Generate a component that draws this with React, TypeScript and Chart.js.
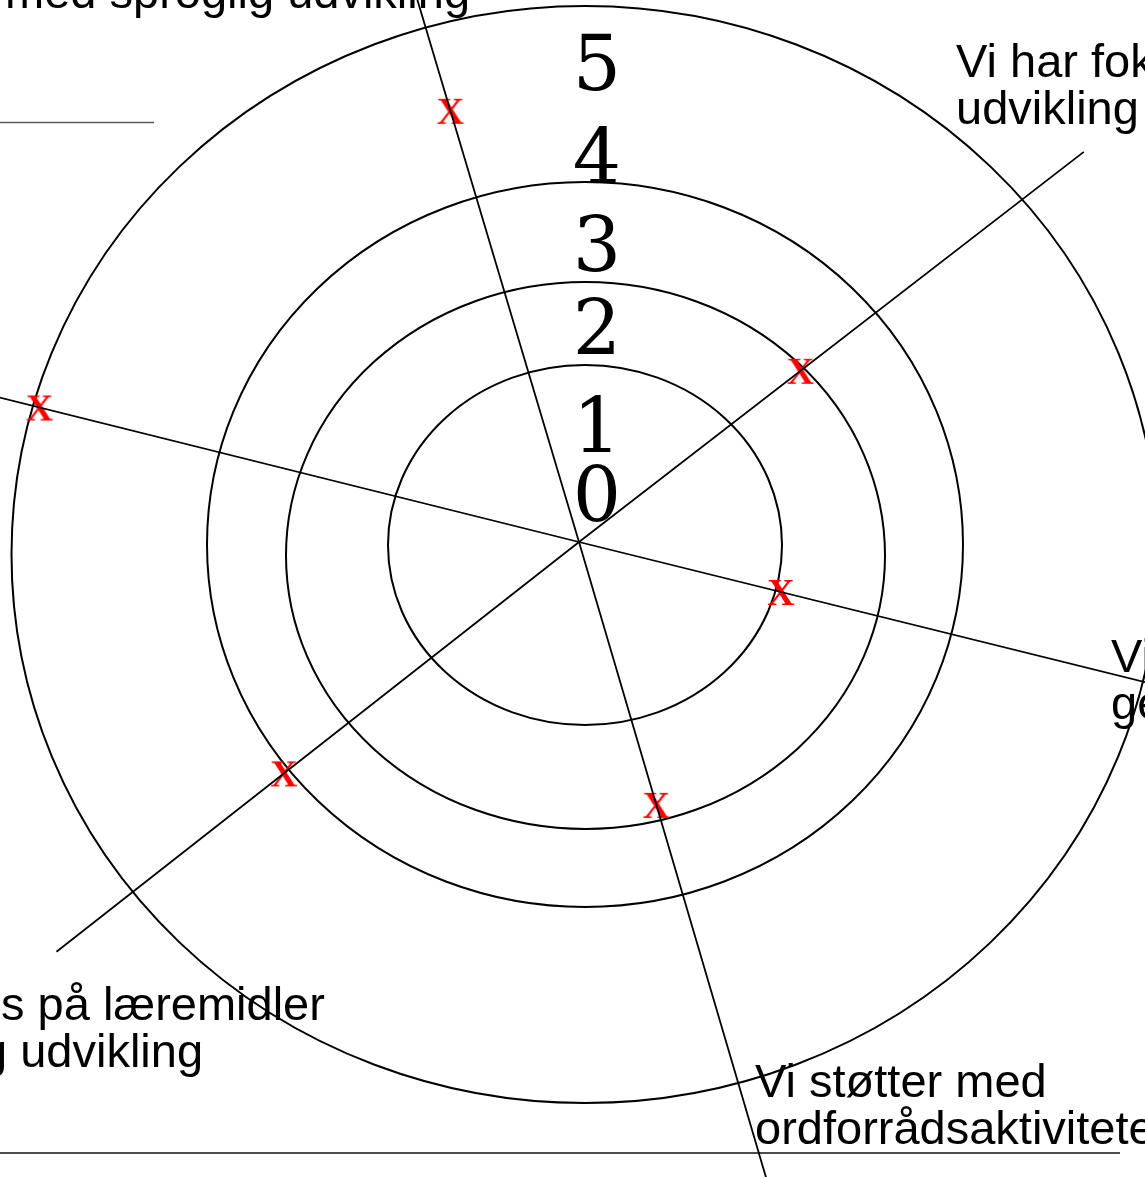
import React, { useEffect, useRef } from "react";
import { Chart, registerables } from "chart.js";

Chart.register(...registerables);

// ---------------- data ----------------
// Axis categories (only the parts visible in the cropped figure)
const categories: string[][] = [
  ["med sproglig udvikling"],
  ["Vi har fokus på", "udvikling"],
  ["Vi", "ge"],
  ["Vi støtter med", "ordforrådsaktiviteter"],
  ["s på læremidler", "g udvikling"],
  [""],
];
// Marked value on each axis (radial distance in scale units)
const values: number[] = [450, 280, 208, 274, 375, 556];
// Radial tick labels
const tickLabels: string[] = ["0", "1", "2", "3", "4", "5"];

// ---------------- layout ----------------
const W = 1145;
const H = 1177;
// axis directions, degrees clockwise from "up"
const AXIS_ANGLES = [-16.6, 52.3, 103.9, 163.6, 231.9, 284.0];
const AXIS_LENGTHS = [640, 638, 640, 700, 664, 640];
// concentric (hand drawn) rings: centre offset and radii in scale units
const RINGS = [
  { cx: 6, cy: -3, rx: 197, ry: 180 },
  { cx: 6.5, cy: -13.5, rx: 299.5, ry: 273.5 },
  { cx: 6, cy: -2.5, rx: 378, ry: 362.5 },
  { cx: 6, cy: -12.5, rx: 573.5, ry: 548.5 },
];
const TICK_RADII = [49, 118, 216, 299, 387, 480];
const TICK_X = 18;
const LABEL_LAYOUT = [
  { x: [-574], y: 534 },
  { x: [377, 377], y: 465 },
  { x: [532, 532], y: -130 },
  { x: [176, 176], y: -555 },
  { x: [-578, -598], y: -478 },
  { x: [0], y: 0 },
];
const LINE_H = 47;
const RULES = [
  { x0: -579, x1: -425, y: 419.5, color: "#595959", w: 1.5 },
  { x0: -579, x1: 541, y: -611, color: "#111111", w: 1.6 },
];
const SANS = '47px "Liberation Sans", Arial, sans-serif';
const SERIF_TICK = 76;

const polar = (r: number, deg: number) => {
  const a = (deg * Math.PI) / 180;
  return { x: r * Math.sin(a), y: r * Math.cos(a) };
};

function makeMarker(): HTMLCanvasElement {
  const c = document.createElement("canvas");
  c.width = 46;
  c.height = 46;
  const g = c.getContext("2d")!;
  g.fillStyle = "#ff0000";
  g.font = 'bold 38px "Liberation Serif", "Times New Roman", serif';
  g.textAlign = "center";
  g.textBaseline = "alphabetic";
  g.fillText("X", 23, 23 + 12.5);
  return c;
}

const diagramPlugin = {
  id: "diagram",
  beforeDatasetsDraw(chart: any) {
    const { ctx } = chart;
    const x = chart.scales.x;
    const y = chart.scales.y;
    ctx.save();
    ctx.strokeStyle = "#000";
    ctx.lineWidth = 2;
    for (const r of RINGS) {
      const cx = x.getPixelForValue(r.cx);
      const cy = y.getPixelForValue(r.cy);
      const rx = Math.abs(x.getPixelForValue(r.cx + r.rx) - cx);
      const ry = Math.abs(y.getPixelForValue(r.cy + r.ry) - cy);
      ctx.beginPath();
      ctx.ellipse(cx, cy, rx, ry, 0, 0, Math.PI * 2);
      ctx.stroke();
    }
    for (const rule of RULES) {
      ctx.strokeStyle = rule.color;
      ctx.lineWidth = rule.w;
      ctx.beginPath();
      ctx.moveTo(x.getPixelForValue(rule.x0), y.getPixelForValue(rule.y));
      ctx.lineTo(x.getPixelForValue(rule.x1), y.getPixelForValue(rule.y));
      ctx.stroke();
    }
    ctx.restore();
  },
  afterDatasetsDraw(chart: any) {
    const { ctx } = chart;
    const x = chart.scales.x;
    const y = chart.scales.y;
    ctx.save();
    // tick labels
    ctx.fillStyle = "#000";
    ctx.font = `${SERIF_TICK}px "DejaVu Serif", serif`;
    ctx.textAlign = "center";
    ctx.textBaseline = "alphabetic";
    tickLabels.forEach((t, i) => {
      const px = x.getPixelForValue(TICK_X);
      const py = y.getPixelForValue(TICK_RADII[i]) + SERIF_TICK * 0.3645;
      ctx.fillText(t, px, py);
    });
    // axis category labels
    ctx.font = SANS;
    ctx.textAlign = "left";
    categories.forEach((lines, i) => {
      const lay = LABEL_LAYOUT[i];
      lines.forEach((ln, j) => {
        if (!ln) return;
        const px = x.getPixelForValue(lay.x[j] ?? lay.x[0]);
        const py = y.getPixelForValue(lay.y - j * LINE_H);
        ctx.fillText(ln, px, py);
      });
    });
    ctx.restore();
  },
};

export default function App() {
  const ref = useRef<HTMLCanvasElement | null>(null);

  useEffect(() => {
    document.body.style.margin = "0";
    const canvas = ref.current;
    if (!canvas) return;

    const axisDatasets = [0, 1, 2].map((i) => {
      const a = polar(AXIS_LENGTHS[i], AXIS_ANGLES[i]);
      const b = polar(AXIS_LENGTHS[i + 3], AXIS_ANGLES[i + 3]);
      return {
        label: `axis-${i}`,
        data: [a, { x: 0, y: 0 }, b],
        showLine: true,
        borderColor: "#000",
        borderWidth: 1.8,
        pointRadius: 0,
        tension: 0,
        fill: false,
      };
    });

    const markerDataset = {
      label: "values",
      data: values.map((v, i) => polar(v, AXIS_ANGLES[i])),
      showLine: false,
      pointStyle: makeMarker(),
      pointRadius: 12,
      borderColor: "#ff0000",
      backgroundColor: "#ff0000",
    };

    const chart = new Chart(canvas, {
      type: "scatter",
      data: { datasets: [...axisDatasets, markerDataset] as any },
      options: {
        responsive: false,
        animation: false,
        events: [],
        layout: { padding: 0, autoPadding: false },
        plugins: { legend: { display: false }, tooltip: { enabled: false } },
        scales: {
          x: { type: "linear", min: -579, max: W - 579, display: false },
          y: { type: "linear", min: 542 - H, max: 542, display: false },
        },
      },
      plugins: [diagramPlugin],
    });
    return () => chart.destroy();
  }, []);

  return (
    <div style={{ width: W, height: H, background: "#fff" }}>
      <canvas ref={ref} width={W} height={H} style={{ display: "block" }} />
    </div>
  );
}
